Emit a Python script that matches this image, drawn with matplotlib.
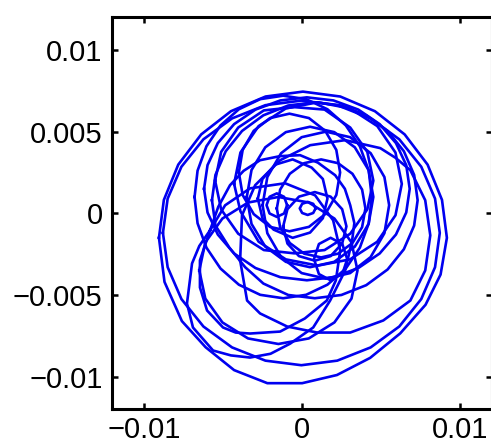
import matplotlib
matplotlib.use('Agg')
import matplotlib.pyplot as plt
import numpy as np

# Traced loops of the orbit, values in units of 1e-3
loop1_x = [-9.05, -8.74, -7.83, -6.38, -4.5, -2.31, 0.05, 2.41, 4.6, 6.48, 7.93, 8.84,
           9.15, 8.75, 7.8, 6.2, 4.3, 2.2, 0.0, -2.2, -4.3, -6.1, -7.6, -8.7]
loop1_y = [-1.5, 0.82, 2.98, 4.83, 6.25, 7.15, 7.45, 7.15, 6.25, 4.83, 2.98, 0.82,
           -1.5, -3.75, -5.6, -7.35, -8.85, -9.9, -10.4, -10.4, -9.6, -8.2, -6.6, -4.2]

loop2_x = [-8.8, -8.5, -7.63, -6.24, -4.43, -2.32, -0.05, 2.22, 4.33, 6.14, 7.53, 8.4,
           8.7, 8.4, 7.53, 6.14, 4.33, 2.22, -0.05, -2.32, -4.43, -6.24, -7.63, -8.5]
loop2_y = [-1.2, 0.9, 2.85, 4.53, 5.81, 6.62, 6.9, 6.62, 5.81, 4.53, 2.85, 0.9,
           -1.2, -3.3, -5.25, -6.93, -8.21, -9.02, -9.3, -9.02, -8.21, -6.93, -5.25, -3.3]

loop3_x = [-5.82, -6.5, -6.96, -7.28, -6.90, -5.63, -4.5, -3.29, -2.0, -0.76, 0.70, 1.77, 2.72, 3.16,
           3.3, 3.04, 2.7, 2.09, 1.0, -0.13, -1.4, -2.66, -3.7, -4.56, -5.3]
loop3_y = [-1.04, -2.0, -3.07, -5.52, -6.99, -8.40, -8.7, -8.83, -8.6, -7.98, -6.99, -5.34, -3.50, -1.66,
           -0.6, 0.49, 1.5, 2.33, 3.1, 3.56, 3.5, 3.25, 2.6, 1.72, 0.4]

loop4_x = [-5.82, -6.46, -6.46, -6.01, -5.00, -4.2, -3.29, -1.39, 0.17, 1.56, 2.13, 2.41,
           1.96, 0.82, -1.08, -3.29, -4.87]
loop4_y = [-1.04, -2.88, -4.54, -5.95, -6.99, -7.3, -7.36, -7.24, -6.44, -5.34, -4.11, -2.27,
           -0.43, 1.10, 1.84, 1.53, 0.49]

loop5_x = [-3.92, -3.48, -2.66, -0.95, 0.95, 3.04, 5.13, 6.84, 7.78, 8.10, 7.78, 6.84, 5.9,
           4.94, 2.72, 0.51, -1.39, -2.97, -3.80]
loop5_y = [-2.88, -5.34, -6.13, -6.93, -7.30, -7.30, -6.56, -5.34, -3.50, -1.35, 0.80, 2.64, 3.4,
           3.99, 4.48, 4.17, 3.25, 1.72, -0.12]

loop6_x = [-6.2, -5.98, -5.33, -4.3, -2.95, -1.38, 0.3, 1.98, 3.55, 4.9, 5.93, 6.58,
           6.8, 6.58, 5.93, 4.9, 3.55, 1.98, 0.3, -1.38, -2.95, -4.3, -5.33, -5.98]
loop6_y = [1.5, 2.95, 4.3, 5.46, 6.35, 6.91, 7.1, 6.91, 6.35, 5.46, 4.3, 2.95,
           1.5, 0.05, -1.3, -2.46, -3.35, -3.91, -4.1, -3.91, -3.35, -2.46, -1.3, 0.05]

loop7_x = [-5.5, -5.12, -4.04, -2.42, -0.5, 1.42, 3.04, 4.12, 4.5, 4.12, 3.04, 1.42, -0.5, -2.42, -4.04, -5.12]
loop7_y = [2.0, 3.76, 5.25, 6.3, 6.5, 6.35, 5.25, 3.76, 2.0, 0.24, -1.25, -2.25, -2.45, -2.25, -1.25, 0.24]

loop8_x = [-3.5, -3.2, -2.33, -1.03, 0.5, 2.03, 3.33, 4.2, 4.5, 4.2, 3.33, 2.03, 0.5, -1.03, -2.33, -3.2]
loop8_y = [1.0, 2.65, 4.04, 4.97, 5.3, 4.97, 4.04, 2.65, 1.0, -0.65, -2.04, -2.97, -3.3, -2.97, -2.04, -0.65]

loop9_x = [-4.0, -3.76, -3.06, -2.03, -0.8, 0.43, 1.46, 2.16, 2.4, 2.16, 1.46, 0.43, -0.8, -2.03, -3.06, -3.76]
loop9_y = [2.5, 3.88, 5.05, 5.83, 6.1, 5.83, 5.05, 3.88, 2.5, 1.12, -0.05, -0.83, -1.1, -0.83, -0.05, 1.12]

loop10_x = [-1.6, -1.39, -0.78, 0.13, 1.2, 2.27, 3.18, 3.79, 4.0, 3.79, 3.18, 2.27, 1.2, 0.13, -0.78, -1.39]
loop10_y = [0.3, 1.45, 2.42, 3.07, 3.3, 3.07, 2.42, 1.45, 0.3, -0.85, -1.82, -2.47, -2.7, -2.47, -1.82, -0.85]

loop11_x = [-2.5, -2.2, -1.33, -0.03, 1.5, 3.03, 4.33, 5.2, 5.5, 5.2, 4.33, 3.03, 1.5, -0.03, -1.33, -2.2]
loop11_y = [0.5, 2.22, 3.68, 4.66, 5.0, 4.66, 3.68, 2.22, 0.5, -1.22, -2.68, -3.66, -4.0, -3.66, -2.68, -1.22]

loop12_x = [-5.7, -5.48, -4.83, -3.8, -2.45, -0.88, 0.8, 2.48, 4.05, 5.4, 6.43, 7.08,
            7.3, 7.08, 6.43, 5.4, 4.05, 2.48, 0.8, -0.88, -2.45, -3.6, -4.6, -5.48]
loop12_y = [0.8, 2.35, 3.8, 5.04, 6.0, 6.6, 6.8, 6.6, 6.0, 5.04, 3.8, 2.35,
            0.8, -0.75, -2.2, -3.44, -4.4, -5.0, -5.2, -5.0, -4.3, -3.3, -2.1, -0.75]

loop13_x = [-4.3, -3.9, -2.75, -1.03, 1.0, 3.03, 4.75, 5.9, 6.3, 5.9, 4.75, 3.03, 1.0, -1.03, -2.75, -3.9]
loop13_y = [1.8, 3.72, 5.34, 6.42, 6.8, 6.42, 5.34, 3.72, 1.8, -0.12, -1.74, -2.82, -3.2, -2.82, -1.74, 0.12]

loop14_x = [-6.5, -6.12, -5.04, -3.42, -1.5, 0.42, 2.04, 3.12, 3.5, 3.12, 2.04, 0.42, -1.5, -3.42, -5.04, -6.12]
loop14_y = [-3.5, -1.78, -0.32, 0.66, 1.0, 0.66, -0.32, -1.78, -3.5, -5.22, -6.68, -7.66, -8.0, -7.66, -6.68, -5.22]

loop15_x = [-6.8, -6.61, -6.05, -5.16, -4.0, -2.65, -1.2, 0.25, 1.6, 2.76, 3.65, 4.21,
            4.4, 4.21, 3.65, 2.76, 1.6, 0.25, -1.2, -2.65, -4.0, -5.16, -6.05, -6.61]
loop15_y = [1.0, 2.61, 4.1, 5.38, 6.37, 6.99, 7.2, 6.99, 6.37, 5.38, 4.1, 2.61,
            1.0, -0.61, -2.1, -3.38, -4.37, -4.99, -5.2, -4.99, -4.37, -3.38, -2.1, -0.61]

loop16_x = [-2.8, -2.51, -1.7, -0.6, 0.6, 1.31, 1.6, 1.31, 0.5, -0.6, -1.8, -2.51]
loop16_y = [0.9, 2.1, 2.98, 3.3, 2.8, 2.1, 0.9, -0.3, -1.18, -1.5, -1.0, -0.3]

loop17_x = [-1.2, -0.93, -0.2, 0.8, 1.8, 2.53, 2.8, 2.53, 1.8, 0.8, -0.2, -0.93]
loop17_y = [-0.8, 0.25, 1.02, 1.3, 1.02, 0.25, -0.8, -1.85, -2.62, -2.9, -2.62, -1.85]

eye_l_x = [-0.95, -1.14, -1.6, -2.06, -2.25, -2.06, -1.6, -1.14]
eye_l_y = [0.5, 1.01, 1.22, 1.01, 0.5, -0.01, -0.22, -0.01]

eye_r_x = [0.85, 0.7, 0.35, 0.0, -0.15, 0.0, 0.35, 0.7]
eye_r_y = [0.3, 0.58, 0.7, 0.58, 0.3, 0.02, -0.1, 0.02]

small_x = [2.85, 2.54, 1.8, 1.06, 0.75, 1.06, 1.8, 2.54]
small_y = [-2.8, -1.88, -1.5, -1.88, -2.8, -3.72, -4.1, -3.72]

loops = [(loop1_x, loop1_y), (loop2_x, loop2_y), (loop3_x, loop3_y), (loop4_x, loop4_y),
         (loop5_x, loop5_y), (loop6_x, loop6_y), (loop7_x, loop7_y), (loop8_x, loop8_y),
         (loop9_x, loop9_y), (loop10_x, loop10_y), (loop11_x, loop11_y), (loop12_x, loop12_y),
         (loop13_x, loop13_y), (loop14_x, loop14_y), (loop15_x, loop15_y),
         (loop16_x, loop16_y), (loop17_x, loop17_y),
         (eye_l_x, eye_l_y), (eye_r_x, eye_r_y), (small_x, small_y)]

plt.rcParams['font.family'] = ['Liberation Sans', 'DejaVu Sans']

fig = plt.figure(figsize=(4.91, 4.47), dpi=100)
ax = fig.add_axes([0.2287, 0.0843, 0.7733, 0.877])

for lx, ly in loops:
    xs = np.array(lx + lx[:1]) * 1e-3
    ys = np.array(ly + ly[:1]) * 1e-3
    ax.plot(xs, ys, color='#0000f0', linewidth=1.9, solid_joinstyle='round')

ax.set_xlim(-0.012, 0.012)
ax.set_ylim(-0.012, 0.012)
ax.set_xticks([-0.01, 0, 0.01])
ax.set_xticklabels(['\u22120.01', '0', '0.01'])
ax.set_yticks([-0.01, -0.005, 0, 0.005, 0.01])
ax.set_yticklabels(['\u22120.01', '\u22120.005', '0', '0.005', '0.01'])

for s in ax.spines.values():
    s.set_linewidth(2.2)
ax.tick_params(direction='in', length=4, width=1.8, labelsize=21,
               top=True, right=True)
ax.tick_params(axis='y', pad=7)
ax.tick_params(axis='x', pad=5)

fig.savefig('out.png', dpi=100)
